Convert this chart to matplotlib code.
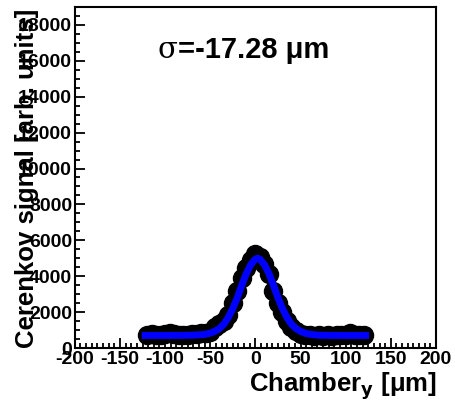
import numpy as np
import matplotlib.pyplot as plt
from matplotlib.ticker import MultipleLocator

plt.rcParams['font.family'] = ['Liberation Sans', 'DejaVu Sans']
plt.rcParams['axes.unicode_minus'] = False

# measured Cerenkov signal vs chamber y position
pos_um = [-120, -115, -110, -105, -100, -95, -90, -85, -80, -75, -70, -65, -60,
          -55, -50, -45, -40, -35, -30, -25, -20, -15, -10, -5, 0, 5, 10, 15,
          20, 25, 30, 35, 40, 45, 50, 55, 60, 65, 70, 75, 80, 85, 90, 95, 100,
          105, 110, 115, 120]
signal = [720, 760, 700, 720, 760, 820, 800, 720, 700, 740, 780, 760, 820,
          850, 900, 1150, 1350, 1500, 1850, 2500, 3150, 3900, 4450, 4900, 5250,
          5050, 4700, 4100, 3200, 2500, 2000, 1500, 1150, 950, 800, 720, 700,
          680, 700, 680, 700, 690, 720, 700, 750, 820, 740, 700, 720]

# gaussian fit curve
fit_x = [-122, -100, -80, -70, -60, -55, -50, -45, -40, -35, -30, -25, -20,
         -15, -10, -5, 0, 2.5, 5, 10, 15, 20, 25, 30, 35, 40, 45, 50, 55, 60,
         65, 70, 80, 100, 122]
fit_y = [700, 700, 705, 715, 740, 770, 830, 930, 1080, 1320, 1700, 2200, 2800,
         3500, 4150, 4650, 4950, 5000, 4950, 4650, 4150, 3500, 2800, 2200, 1700,
         1320, 1080, 930, 830, 770, 740, 715, 705, 700, 700]

fig = plt.figure(figsize=(4.56, 4.04), dpi=100)
ax = fig.add_axes([0.164, 0.1386, 0.792, 0.8441])

ax.plot(pos_um, signal, 'o', color='black', markersize=13, zorder=2)
ax.plot(fit_x, fit_y, '-', color='#0000ff', lw=5, zorder=3)

ax.set_xlim(-200, 200)
ax.set_ylim(0, 19000)

ax.xaxis.set_major_locator(MultipleLocator(50))
ax.xaxis.set_minor_locator(MultipleLocator(6.25))
ax.yaxis.set_major_locator(MultipleLocator(2000))
ax.yaxis.set_minor_locator(MultipleLocator(500))

ax.tick_params(which='both', direction='in', top=False, right=False, width=1.3)
ax.tick_params(which='major', length=7, labelsize=14, pad=2)
ax.tick_params(which='minor', length=3.5)
for lab in ax.get_xticklabels() + ax.get_yticklabels():
    lab.set_fontweight('bold')
for sp in ax.spines.values():
    sp.set_linewidth(1.5)

fig.text(27 / 456, 1 - 178 / 404, "Cerenkov signal [arb. units]", rotation=90,
         ha='center', va='center', fontsize=18.5, fontweight='bold')
fig.text(437 / 456, 1 - 391 / 404, r"Chamber$_{\mathbf{y}}$ [μm]", ha='right',
         va='baseline', fontsize=18.5, fontweight='bold')

ax.text(0.285, 0.874, "σ", transform=ax.transAxes, ha='right', va='center',
        fontsize=21, family='DejaVu Serif')
ax.text(0.285, 0.874, "=-17.28 μm", transform=ax.transAxes, ha='left',
        va='center', fontsize=21, fontweight='bold')

fig.savefig('out.png', dpi=100)
